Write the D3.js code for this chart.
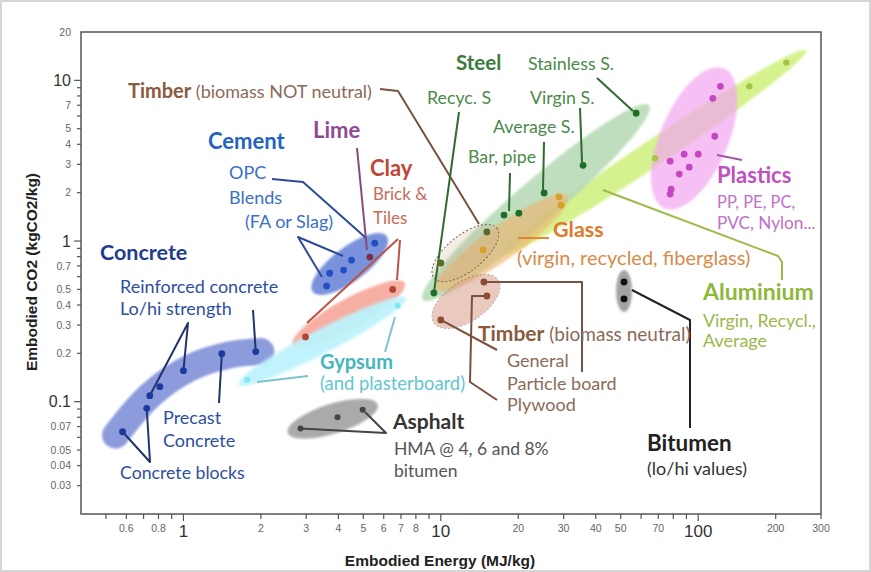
<!DOCTYPE html>
<html>
<head>
<meta charset="utf-8">
<script src="https://cdn.jsdelivr.net/npm/d3@7"></script>
<style>
  html, body { margin: 0; padding: 0; background: #fff; }
  svg { display: block; }
  .lbl { font-family: Lato, "Open Sans", sans-serif; }
  .ax { font-family: "Liberation Sans Narrow", "Liberation Sans", sans-serif; }
</style>
</head>
<body>
<svg id="chart" width="871" height="572"></svg>
<script>
// ---- Tick values ----
const xTickLabels = [0.6, 0.8, 1, 2, 3, 4, 5, 6, 7, 8, 10, 20, 30, 40, 50, 70, 100, 200, 300];
const xTickMarks = [0.5, 0.6, 0.7, 0.8, 0.9, 1, 2, 3, 4, 5, 6, 7, 8, 9, 10, 20, 30, 40, 50, 60, 70, 80, 90, 100, 200, 300];
const yTickLabels = [20, 10, 7, 5, 4, 3, 2, 1, 0.7, 0.5, 0.4, 0.3, 0.2, 0.1, 0.07, 0.05, 0.04, 0.03];
const yTickMarks = [10, 9, 8, 7, 6, 5, 4, 3, 2, 1, 0.9, 0.8, 0.7, 0.6, 0.5, 0.4, 0.3, 0.2, 0.1, 0.09, 0.08, 0.07, 0.06, 0.05, 0.04, 0.03];
const majorTicks = [0.1, 1, 10, 100];

// ---- Materials: [embodied energy MJ/kg, embodied CO2 kgCO2/kg] ----
const concrete = [[0.58, 0.065], [0.72, 0.091], [0.74, 0.109], [0.81, 0.124], [1.0, 0.156], [1.41, 0.199], [1.91, 0.205]];
const cement = [[5.54, 0.97], [4.5, 0.76], [4.19, 0.66], [3.7, 0.63], [3.6, 0.525]];
const lime = [[5.3, 0.795]];
const clay = [[6.5, 0.5], [2.98, 0.253]];
const gypsum = [[6.8, 0.395], [1.77, 0.137]];
const asphalt = [[2.85, 0.068], [3.97, 0.08], [4.97, 0.089]];
const steel = [[9.4, 0.475], [17.6, 1.45], [20.1, 1.49], [25.2, 1.99], [35.7, 2.96], [57.4, 6.24]];
const glass = [[14.6, 0.88], [28.8, 1.88], [29.3, 1.67]];
const timberNotNeutral = [[10, 0.73], [15.1, 1.14]];
const timberNeutral = [[10, 0.323], [14.7, 0.556], [15.1, 0.455]];
const aluminium = [[68, 3.28], [158, 9.18], [220, 12.9]];
const plastics = [[122, 9.18], [114, 7.73], [116, 4.49], [100, 3.47], [88.2, 3.47], [77.8, 3.14], [92.3, 2.88], [84.4, 2.61], [78.5, 2.1], [77.8, 1.96]];
const bitumen = [[51.5, 0.556], [51.5, 0.436]];

// ---- Scales ----
const x = d3.scaleLog().domain([0.4, 300]).range([81, 821]);
const y = d3.scaleLog().domain([0.02, 20]).range([514, 32]);
const P = d => [x(d[0]), y(d[1])];

const svg = d3.select("#chart");
svg.append("rect").attr("x", 1).attr("y", 1).attr("width", 869).attr("height", 570)
  .attr("fill", "#fff").attr("stroke", "#d6d6d6").attr("stroke-width", 2);

const defs = svg.append("defs");
defs.append("filter").attr("id", "soft").attr("x", "-50%").attr("y", "-50%").attr("width", "200%").attr("height", "200%")
  .append("feGaussianBlur").attr("stdDeviation", 1.6);
defs.append("filter").attr("id", "soft1").attr("x", "-50%").attr("y", "-50%").attr("width", "200%").attr("height", "200%")
  .append("feGaussianBlur").attr("stdDeviation", 0.8);

const blobs = svg.append("g");

// Ellipse spanning two value-space endpoints, with a half-width in pixels
function ellipse(p1, p2, hw, style) {
  const a = P(p1), b = P(p2);
  const cx = (a[0] + b[0]) / 2, cy = (a[1] + b[1]) / 2;
  const rx = Math.hypot(b[0] - a[0], b[1] - a[1]) / 2;
  const ang = Math.atan2(b[1] - a[1], b[0] - a[0]) * 180 / Math.PI;
  const e = blobs.append("ellipse")
    .attr("transform", `translate(${cx},${cy}) rotate(${ang})`)
    .attr("rx", rx).attr("ry", hw);
  Object.entries(style).forEach(([k, v]) => e.attr(k, v));
  return e;
}

// Aluminium band
ellipse([17.1, 0.818], [263, 15.4], 13, { fill: "#d4f28a", opacity: 0.95, filter: "url(#soft1)" });
// Steel
ellipse([8.5, 0.43], [64.5, 7.0], 21, { fill: "#aed7ad", opacity: 0.8, filter: "url(#soft1)" });
// Glass band
ellipse([9.6, 0.5], [31, 1.9], 17, { fill: "#efb26a", opacity: 0.6, filter: "url(#soft1)" });
// Timber (biomass neutral)
ellipse([9.4, 0.31], [16.7, 0.572], 20, { fill: "#d9a08c", opacity: 0.55, stroke: "#8b6a55", "stroke-width": 1, "stroke-dasharray": "2,2" });
// Timber (biomass not neutral)
ellipse([9.4, 0.589], [16.5, 1.205], 18, { fill: "#c9a080", "fill-opacity": 0.2, stroke: "#7a6a45", "stroke-width": 1, "stroke-dasharray": "2,2" });
// Plastics
ellipse([73.9, 1.6], [125.9, 11.87], 34, { fill: "#f3a6f0", opacity: 0.7, filter: "url(#soft1)" });
// Concrete band (curved)
const concreteBand = [[0.545, 0.062], [0.744, 0.110], [1.065, 0.163], [1.52, 0.196], [2.0, 0.205]];
blobs.append("path")
  .attr("d", d3.line().x(d => x(d[0])).y(d => y(d[1])).curve(d3.curveCatmullRom)(concreteBand))
  .attr("fill", "none").attr("stroke", "#7d8ed8").attr("stroke-width", 27)
  .attr("stroke-linecap", "round").attr("opacity", 0.88).attr("filter", "url(#soft1)");
// Cement
ellipse([3.18, 0.482], [6.17, 1.074], 17, { fill: "#6c86d8", opacity: 0.9, filter: "url(#soft1)" });
// Clay
ellipse([2.66, 0.226], [7.24, 0.548], 15, { fill: "#f6a294", opacity: 0.85, filter: "url(#soft1)" });
// Gypsum
ellipse([1.64, 0.128], [7.31, 0.443], 12, { fill: "#bdf3fb", opacity: 0.95, filter: "url(#soft)" });
// Asphalt
ellipse([2.54, 0.064], [5.69, 0.0958], 15, { fill: "#9c9c9c", opacity: 0.85, filter: "url(#soft1)" });
// Bitumen
ellipse([51.5, 0.66], [51.5, 0.362], 8, { fill: "#9a9a9a", opacity: 0.9, filter: "url(#soft1)" });

// ---- Frame and axes ----
const x0 = x(0.4), x1 = x(300), y0 = y(0.02), y1 = y(20);
svg.append("rect").attr("x", x0).attr("y", y1).attr("width", x1 - x0).attr("height", y0 - y1)
  .attr("fill", "none").attr("stroke", "#555").attr("stroke-width", 1.5);

const axG = svg.append("g").attr("class", "ax");
xTickMarks.forEach(v => {
  const len = majorTicks.includes(v) ? 7 : 5;
  axG.append("line").attr("x1", x(v)).attr("x2", x(v)).attr("y1", y0).attr("y2", y0 + len)
    .attr("stroke", "#555").attr("stroke-width", 1.2);
});
xTickLabels.forEach(v => {
  const big = majorTicks.includes(v);
  axG.append("text").attr("x", x(v)).attr("y", big ? 537 : 532)
    .attr("text-anchor", "middle").attr("font-size", big ? 17 : 10.5)
    .attr("fill", big ? "#333" : "#666").text(v);
});
yTickMarks.forEach(v => {
  const len = majorTicks.includes(v) ? 7 : 4;
  axG.append("line").attr("x1", x0 - len).attr("x2", x0).attr("y1", y(v)).attr("y2", y(v))
    .attr("stroke", "#555").attr("stroke-width", 1.2);
});
yTickLabels.forEach(v => {
  const big = majorTicks.includes(v);
  axG.append("text").attr("x", 71).attr("y", y(v)).attr("dy", "0.35em")
    .attr("text-anchor", "end").attr("font-size", big ? 16 : 10.5)
    .attr("fill", big ? "#333" : "#666").text(v);
});
axG.append("text").attr("x", 440).attr("y", 566).attr("text-anchor", "middle")
  .attr("font-size", 15.5).attr("font-weight", "bold").attr("fill", "#222").text("Embodied Energy (MJ/kg)");
axG.append("text").attr("transform", "translate(37,272) rotate(-90)").attr("text-anchor", "middle")
  .attr("font-size", 15.5).attr("font-weight", "bold").attr("fill", "#222").text("Embodied CO2 (kgCO2/kg)");

// ---- Leader lines (pixel waypoints, optionally ending at a data point) ----
const leaders = svg.append("g").attr("fill", "none").attr("stroke-width", 2).attr("stroke-linejoin", "round");
function leader(color, pts) {
  const pp = pts.map(p => (p.pt ? P(p.pt) : p));
  leaders.append("path").attr("d", d3.line()(pp)).attr("stroke", color);
}
// Concrete
leader("#22336e", [{ pt: concrete[2] }, [188, 323], { pt: concrete[4] }]);
leader("#22336e", [[253, 310], { pt: concrete[6] }]);
leader("#22336e", [{ pt: concrete[5] }, [219, 403]]);
leader("#22336e", [{ pt: concrete[0] }, [150, 462], { pt: concrete[1] }]);
// Cement
leader("#2b4b9a", [[272, 179], [303, 182], [366, 238]]);
leader("#2b4b9a", [[322, 277], [298, 237], [343, 256]]);
// Lime
leader("#8a4a78", [[357, 148], [367, 250]]);
// Clay
leader("#b85545", [[307, 323], [398, 239]]);
leader("#b85545", [[400, 240], [397, 280]]);
// Gypsum
leader("#7cc4cc", [[395, 317], [385, 352]]);
leader("#7cc4cc", [[257, 382], [308, 376]]);
// Asphalt
leader("#444", [{ pt: asphalt[0] }, [386, 433], [365, 412]]);
// Timber not neutral
leader("#7a5040", [[380, 89], [398, 91], [479, 224]]);
// Steel
leader("#2e6b2e", [[459, 112], { pt: steel[0] }]);
leader("#2e6b2e", [[510, 173], [509, 211]]);
leader("#2e6b2e", [[544, 142], [543, 190]]);
leader("#2e6b2e", [[580, 108], [582, 162]]);
leader("#2e6b2e", [[597, 78], [633, 111]]);
// Glass
leader("#e8843a", [[518, 238], [549, 238]]);
// Timber neutral
leader("#7a5040", [{ pt: timberNeutral[0] }, [497, 350]]);
leader("#7a5040", [{ pt: timberNeutral[1] }, [582, 282], [582, 372]]);
leader("#7a5040", [{ pt: timberNeutral[2] }, [472, 296], [470, 382], [497, 400]]);
// Aluminium
leader("#9bbb45", [[603, 190], [778, 256], [782, 262], [782, 280]]);
// Plastics
leader("#a05aa0", [[717, 155], [742, 160]]);
// Bitumen
leader("#222", [[632, 290], [690, 320], [690, 428]]);

// ---- Points ----
const dots = svg.append("g");
function points(data, color, r = 3.4) {
  dots.selectAll(null).data(data).enter().append("circle")
    .attr("cx", d => x(d[0])).attr("cy", d => y(d[1])).attr("r", r).attr("fill", color);
}
points(concrete, "#1b3a9c");
points(cement, "#2150c2");
points(lime, "#7a3040");
points(clay, "#b04535");
points(gypsum, "#7fe8f4", 3);
points(asphalt, "#444", 3);
points(steel, "#1f6d2c");
points(glass, "#d8a22a");
points(timberNotNeutral, "#5b6a25");
points(timberNeutral, "#8b4a30");
points(aluminium, "#a6c44a", 3.2);
points(plastics, "#c347c3", 3.4);
points(bitumen, "#111", 3.4);

// ---- Labels ----
const T = svg.append("g").attr("class", "lbl");
function label(xp, yp, parts) {
  const t = T.append("text").attr("x", xp).attr("y", yp);
  parts.forEach(p => {
    t.append("tspan").attr("font-size", p.s || 18).attr("font-weight", p.b ? "bold" : "normal")
      .attr("fill", p.c).text(p.t);
  });
}
const C = {
  concrete: "#1f3c8c", concreteSub: "#2e4e9e", cement: "#2362c2", cementSub: "#3a6fc8",
  lime: "#8e4a94", clay: "#c0473a", claySub: "#c86a58", gyp: "#45b6c0", gypSub: "#62c6cf",
  asph: "#333", asphSub: "#555", timber: "#8b5a3c", timberSub: "#8b6a5a", steel: "#3a7a3a",
  steelSub: "#4a8a4a", glass: "#e07a2a", glassSub: "#d98a4a", alu: "#8db83a", aluSub: "#9ab84a",
  plas: "#c050c0", plasSub: "#c070c8", bit: "#222", bitSub: "#333"
};
label(128, 98, [{ t: "Timber", b: 1, s: 20, c: C.timber }, { t: " (biomass NOT neutral)", s: 18, c: C.timberSub }]);
label(456, 70, [{ t: "Steel", b: 1, s: 20.5, c: C.steel }]);
label(528, 69.5, [{ t: "Stainless S.", s: 17.8, c: C.steelSub }]);
label(427, 103.5, [{ t: "Recyc. S", s: 17.8, c: C.steelSub }]);
label(530, 103.5, [{ t: "Virgin S.", s: 17.8, c: C.steelSub }]);
label(493, 132.5, [{ t: "Average S.", s: 17.8, c: C.steelSub }]);
label(468, 163, [{ t: "Bar, pipe", s: 17.8, c: C.steelSub }]);
label(208, 149, [{ t: "Cement", b: 1, s: 22, c: C.cement }]);
label(313, 138, [{ t: "Lime", b: 1, s: 22, c: C.lime }]);
label(370, 176, [{ t: "Clay", b: 1, s: 22, c: C.clay }]);
label(373, 199.5, [{ t: "Brick &", s: 17, c: C.claySub }]);
label(373, 223.5, [{ t: "Tiles", s: 17, c: C.claySub }]);
label(229, 178.5, [{ t: "OPC", c: C.cementSub }]);
label(229, 203.5, [{ t: "Blends", c: C.cementSub }]);
label(245, 227.5, [{ t: "(FA or Slag)", c: C.cementSub }]);
label(100, 260, [{ t: "Concrete", b: 1, s: 21.5, c: C.concrete }]);
label(120, 292.5, [{ t: "Reinforced concrete", c: C.concreteSub }]);
label(120, 314.5, [{ t: "Lo/hi strength", c: C.concreteSub }]);
label(163, 423.5, [{ t: "Precast", c: C.concreteSub }]);
label(163, 446.5, [{ t: "Concrete", c: C.concreteSub }]);
label(120, 478.5, [{ t: "Concrete blocks", s: 17.7, c: C.concreteSub }]);
label(320, 369, [{ t: "Gypsum", b: 1, s: 20, c: C.gyp }]);
label(320, 389.5, [{ t: "(and plasterboard)", s: 18.4, c: C.gypSub }]);
label(393, 428.5, [{ t: "Asphalt", b: 1, s: 21, c: C.asph }]);
label(394, 454.5, [{ t: "HMA @ 4, 6 and 8%", s: 17.5, c: C.asphSub }]);
label(394, 476.5, [{ t: "bitumen", s: 17.5, c: C.asphSub }]);
label(553, 237, [{ t: "Glass", b: 1, s: 21.5, c: C.glass }]);
label(517, 265, [{ t: "(virgin, recycled, fiberglass)", s: 20, c: C.glassSub }]);
label(478, 340.5, [{ t: "Timber", b: 1, s: 21, c: C.timber }, { t: " (biomass neutral)", s: 19, c: C.timberSub }]);
label(507, 366.5, [{ t: "General", c: C.timberSub }]);
label(507, 389.5, [{ t: "Particle board", c: C.timberSub }]);
label(507, 410.5, [{ t: "Plywood", c: C.timberSub }]);
label(647, 451, [{ t: "Bitumen", b: 1, s: 22.4, c: C.bit }]);
label(647, 474.5, [{ t: "(lo/hi values)", c: C.bitSub }]);
label(703, 300, [{ t: "Aluminium", b: 1, s: 23, c: C.alu }]);
label(703, 326.5, [{ t: "Virgin, Recycl.,", s: 17.8, c: C.aluSub }]);
label(703, 346.5, [{ t: "Average", c: C.aluSub }]);
label(717, 183, [{ t: "Plastics", b: 1, s: 22, c: C.plas }]);
label(717, 208, [{ t: "PP, PE, PC,", s: 16.5, c: C.plasSub }]);
label(717, 229, [{ t: "PVC, Nylon...", s: 17.2, c: C.plasSub }]);
</script>
</body>
</html>
